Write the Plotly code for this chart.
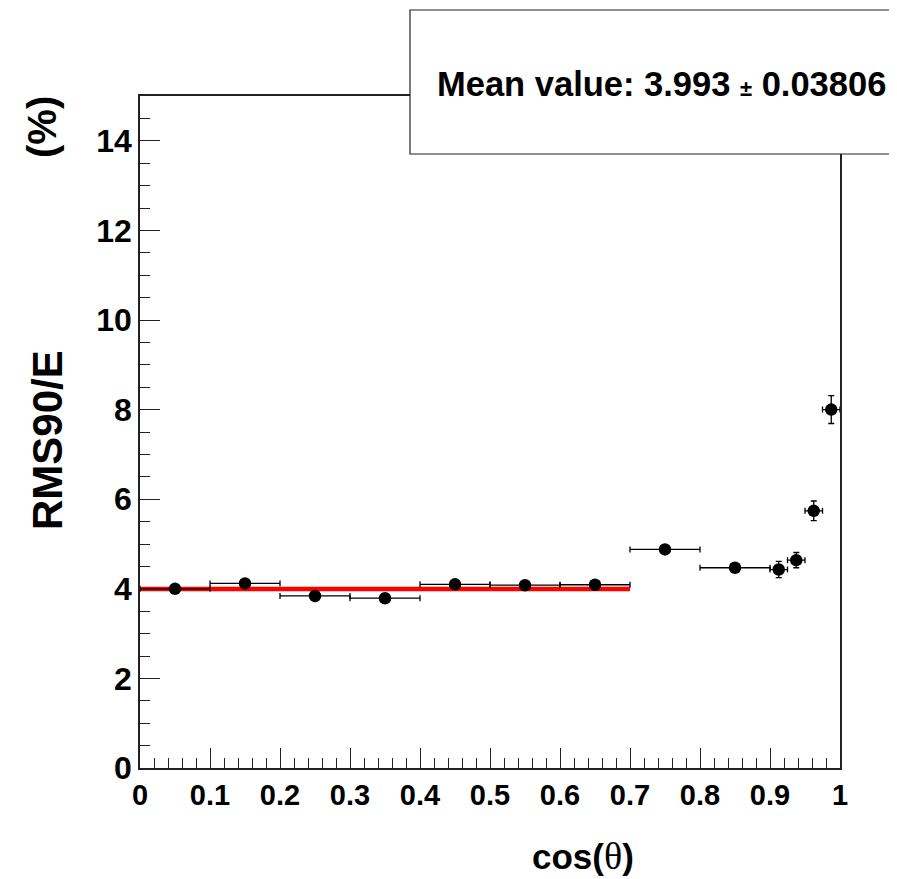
import plotly.graph_objects as go

# ---- data ----
cos_theta = [0.05, 0.15, 0.25, 0.35, 0.45, 0.55, 0.65, 0.75, 0.85, 0.9125, 0.9375, 0.9625, 0.9875]
cos_err = [0.05, 0.05, 0.05, 0.05, 0.05, 0.05, 0.05, 0.05, 0.05, 0.0125, 0.0125, 0.0125, 0.0125]
rms90 = [4.00, 4.12, 3.84, 3.79, 4.10, 4.08, 4.09, 4.88, 4.47, 4.43, 4.64, 5.74, 8.00]
rms90_err = [0.03, 0.04, 0.04, 0.04, 0.04, 0.04, 0.04, 0.05, 0.06, 0.18, 0.17, 0.22, 0.31]
fit_range = [0.0, 0.7]
fit_mean = 3.993
fit_err = 0.03806

FONT = "Liberation Sans"
PAGE_MARGIN = 8  # default body margin of the html page

fig = go.Figure()

fig.add_trace(go.Scatter(
    x=fit_range, y=[fit_mean, fit_mean], mode="lines",
    line=dict(color="#ff0000", width=4.5), showlegend=False, hoverinfo="skip"))

fig.add_trace(go.Scatter(
    x=cos_theta, y=rms90, mode="markers",
    marker=dict(color="black", size=12.5, symbol="circle"),
    error_x=dict(type="data", array=cos_err, color="black", thickness=1.3, width=3),
    error_y=dict(type="data", array=rms90_err, color="black", thickness=1.3, width=3),
    showlegend=False))

axis_common = dict(
    showgrid=False, zeroline=False, showline=True, linecolor="#222", linewidth=1.5,
    mirror=True, ticks="inside", tickcolor="#222", tickwidth=1, ticklen=20,
)

fig.update_xaxes(
    range=[0, 1], dtick=0.1, tick0=0,
    tickfont=dict(family=FONT, size=29, color="black", weight="bold"),
    minor=dict(dtick=0.02, ticks="inside", ticklen=10, tickcolor="#222", tickwidth=1),
    **axis_common)
fig.update_yaxes(
    range=[0, 15], dtick=2, tick0=0,
    tickfont=dict(family=FONT, size=32, color="black", weight="bold"),
    minor=dict(dtick=0.5, ticks="inside", ticklen=10, tickcolor="#222", tickwidth=1),
    **axis_common)

# axis titles
fig.add_annotation(
    xref="paper", yref="paper", x=(583 - 140) / 700, y=(768 - 856) / 672,
    text="cos(<span style='font-family:Liberation Serif;font-weight:normal;font-size:38px'>θ</span>)",
    showarrow=False, font=dict(family=FONT, size=35, color="black", weight="bold"),
    xanchor="center", yanchor="middle")
fig.add_annotation(
    xref="paper", yref="paper", x=(47 - 140) / 700, y=(768 - 440) / 672,
    text="RMS90/E", textangle=-90, showarrow=False,
    font=dict(family=FONT, size=42, color="black", weight="bold"),
    xanchor="center", yanchor="middle")
fig.add_annotation(
    xref="paper", yref="paper", x=(42 - 140) / 700, y=(768 - 127) / 672,
    text="(%)", textangle=-90, showarrow=False,
    font=dict(family=FONT, size=40, color="black", weight="bold"),
    xanchor="center", yanchor="middle")

# stats box
fig.add_shape(
    type="rect", xref="paper", yref="paper",
    x0=(410 - 140) / 700, x1=(905 - 140) / 700,
    y0=(768 - 154) / 672, y1=(768 - 10) / 672,
    line=dict(color="#222", width=1.2), fillcolor="white", layer="above")
fig.add_annotation(
    xref="paper", yref="paper", x=(661 - 140) / 700, y=(768 - 84) / 672,
    text=f"Mean value: {fit_mean} <span style='font-size:22px'>±</span> {fit_err}",
    showarrow=False, font=dict(family=FONT, size=34.5, color="black", weight="bold"),
    xanchor="center", yanchor="middle")

fig.update_layout(
    width=897 - PAGE_MARGIN, height=879 - PAGE_MARGIN,
    margin=dict(l=140 - PAGE_MARGIN, r=57, t=96 - PAGE_MARGIN, b=111),
    paper_bgcolor="white", plot_bgcolor="white",
)

fig.write_html("out.html")
